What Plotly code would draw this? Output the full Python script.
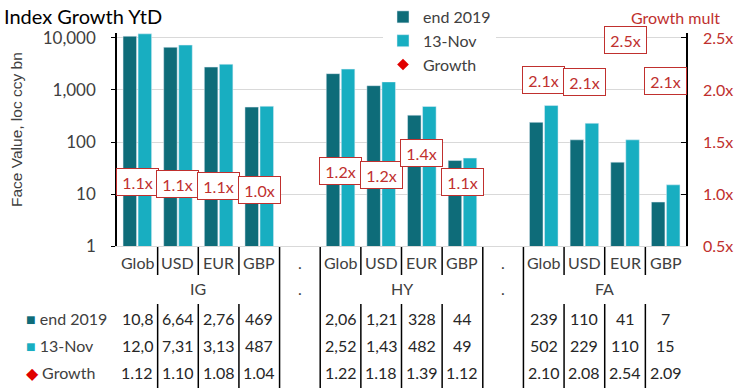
import plotly.graph_objects as go

# ---------------- data ----------------
categories = ["Glob", "USD", "EUR", "GBP", ".",
              "Glob", "USD", "EUR", "GBP", ".",
              "Glob", "USD", "EUR", "GBP"]
end2019 = [10814, 6640, 2760, 469, None,
           2060, 1210, 328, 44, None,
           239, 110, 41, 7]
nov13 = [12020, 7310, 3130, 487, None,
         2520, 1430, 482, 49, None,
         502, 229, 110, 15]
growth = [1.12, 1.10, 1.08, 1.04, None,
          1.22, 1.18, 1.39, 1.12, None,
          2.10, 2.08, 2.54, 2.09]
groups = ["IG", ".", "HY", ".", "FA"]
group_spans = [(0, 3), (4, 4), (5, 8), (9, 9), (10, 13)]
left_ticks = [1, 10, 100, 1000, 10000]
left_ticktext = ["1", "10", "100", "1,000", "10,000"]
right_ticks = [0.5, 1.0, 1.5, 2.0, 2.5]

# ---------------- style ----------------
C_DARK = "#0E6C79"
C_LIGHT = "#18AEC1"
C_RED = "#C0302E"
C_DIAMOND = "#E00000"
C_TEXT = "#404040"
FONT = "Lato"

W, H = 742, 388
ML, MR, MT, MB = 117, 56, 33, 142
PW = W - ML - MR
PH = H - MT - MB

x = list(range(len(categories)))

fig = go.Figure()
fig.add_trace(go.Bar(x=x, y=end2019, name="end 2019", marker_color=C_DARK))
fig.add_trace(go.Bar(x=x, y=nov13, name="13-Nov", marker_color=C_LIGHT))
fig.add_trace(go.Scatter(x=x, y=growth, name="Growth", mode="markers", yaxis="y2",
                         marker=dict(symbol="diamond", color=C_DIAMOND, size=9)))


def py(pix):
    """pixel row -> paper y"""
    return (H - MB - pix) / PH


def px(pix):
    """pixel column -> paper x"""
    return (pix - ML) / PW


ann = []
# growth labels (boxes)
for i, g in enumerate(growth):
    if g is None:
        continue
    ann.append(dict(x=i, y=g, xref="x", yref="y2", text=f"{g:.1f}x", showarrow=False,
                    xanchor="center", yanchor="middle",
                    font=dict(family=FONT, size=16, color=C_RED),
                    bgcolor="white", bordercolor=C_RED, borderwidth=1,
                    width=39, height=24, borderpad=1,
                    yshift=-6 if g > 2.5 else 0))

# category row
for i, c in enumerate(categories):
    ann.append(dict(x=i, y=py(262), xref="x", yref="paper", text=c, showarrow=False,
                    xanchor="center", yanchor="middle",
                    font=dict(family=FONT, size=16, color=C_TEXT)))
# group row
for name, (a, b) in zip(groups, group_spans):
    ann.append(dict(x=(a + b) / 2, y=py(288), xref="x", yref="paper",
                    text=name, showarrow=False, xanchor="center", yanchor="middle",
                    font=dict(family=FONT, size=16, color=C_TEXT)))


def fmt_val(v):
    return f"{v:,.0f}"[:4]


rows = [
    (f"<span style='color:{C_DARK}'>■</span> end 2019", [None if v is None else fmt_val(v) for v in end2019], 318),
    (f"<span style='color:{C_LIGHT}'>■</span> 13-Nov", [None if v is None else fmt_val(v) for v in nov13], 345),
    (f"<span style='color:{C_DIAMOND}'>◆</span> Growth", [None if v is None else f"{v:.2f}" for v in growth], 372),
]
for label, vals, pix in rows:
    ann.append(dict(x=px(24), y=py(pix), xref="paper", yref="paper",
                    xanchor="left", yanchor="middle", text=label, showarrow=False,
                    font=dict(family=FONT, size=16, color=C_TEXT)))
    for i, v in enumerate(vals):
        if v is None:
            continue
        ann.append(dict(x=i, y=py(pix), xref="x", yref="paper", text=v, showarrow=False,
                        xanchor="center", yanchor="middle",
                        font=dict(family=FONT, size=16, color="#262626")))

# axis titles
ann.append(dict(x=px(16), y=py(130), xref="paper", yref="paper",
                xanchor="center", yanchor="middle",
                text="Face Value, loc ccy bn", textangle=-90, showarrow=False,
                font=dict(family="Liberation Sans", size=15.5, color=C_TEXT)))
ann.append(dict(x=px(675), y=py(17), xref="paper", yref="paper",
                xanchor="center", yanchor="middle",
                text="Growth mult", showarrow=False,
                font=dict(family=FONT, size=16, color=C_RED)))

# table lines
shapes = []
group_bounds = {3.5, 4.5, 8.5, 9.5}
for k in range(len(categories) - 1):
    b = k + 0.5
    if b in group_bounds:
        shapes.append(dict(type="line", xref="x", yref="paper", x0=b, x1=b,
                           y0=py(247), y1=py(388), line=dict(color="black", width=1.5)))
    else:
        shapes.append(dict(type="line", xref="x", yref="paper", x0=b, x1=b,
                           y0=py(247), y1=py(275), line=dict(color="black", width=1.5)))
        shapes.append(dict(type="line", xref="x", yref="paper", x0=b, x1=b,
                           y0=py(304), y1=py(388), line=dict(color="black", width=1.5)))

fig.update_layout(
    width=W, height=H,
    margin=dict(l=ML, r=MR, t=MT, b=MB, autoexpand=False),
    paper_bgcolor="white", plot_bgcolor="white",
    barmode="group", bargap=0.26, bargroupgap=0.1,
    title=dict(text="Index Growth YtD", x=4 / W, xanchor="left", y=1 - 17 / H, yanchor="middle",
               font=dict(family=FONT, size=20, color="black")),
    font=dict(family=FONT, size=16, color=C_TEXT),
    xaxis=dict(range=[-0.5, len(categories) - 0.5], showticklabels=False, ticks="",
               showgrid=False, zeroline=False, showline=True, linecolor="#D9D9D9", linewidth=1),
    yaxis=dict(type="log", range=[0, 4.096], tickvals=left_ticks, ticktext=left_ticktext,
               showgrid=True, gridcolor="#D9D9D9", gridwidth=1,
               showline=True, linecolor="black", linewidth=1.5,
               ticks="outside", ticklen=4, tickcolor="black", ticklabelstandoff=12,
               tickfont=dict(family=FONT, size=17, color=C_TEXT), zeroline=False),
    yaxis2=dict(overlaying="y", side="right", range=[0.5, 2.548], tickvals=right_ticks,
                ticktext=[f"{t:.1f}x" for t in right_ticks], showgrid=False, zeroline=False,
                showline=True, linecolor="black", linewidth=1.5,
                ticks="inside", ticklen=5, tickcolor="black", ticklabelstandoff=12,
                tickfont=dict(family=FONT, size=16, color=C_RED)),
    legend=dict(x=px(383), y=1 + 33 / PH, xanchor="left", yanchor="top",
                bgcolor="white", font=dict(family=FONT, size=16, color=C_TEXT),
                tracegroupgap=0, itemwidth=30),
    annotations=ann, shapes=shapes,
)

fig.write_html("out.html", config={"displayModeBar": False},
               post_script="document.body.style.margin='0';document.body.style.padding='0';")
